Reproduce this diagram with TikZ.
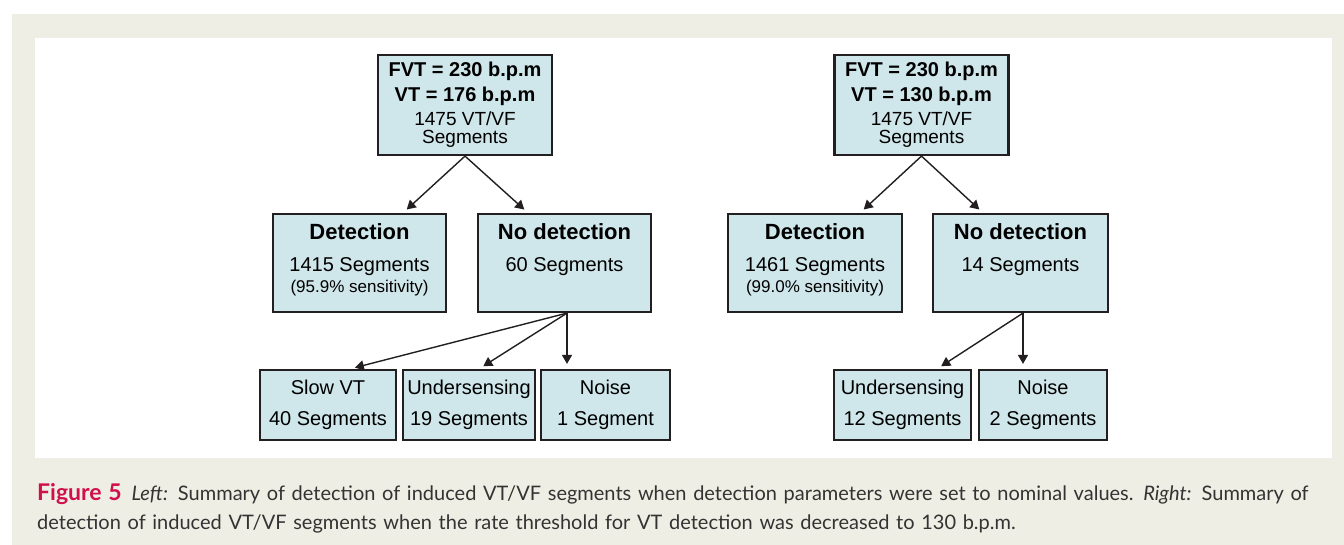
\documentclass[tikz,border=0pt]{standalone}
\usepackage{fontspec}
\setmainfont{Liberation Sans}
\newfontfamily\capfont{Lato}
\usepackage{tikz}
\usetikzlibrary{arrows.meta, positioning}
\usepackage{xcolor}
\definecolor{boxfill}{RGB}{207,230,234}
\definecolor{boxline}{RGB}{35,31,32}
\definecolor{bgbeige}{RGB}{239,238,228}
\definecolor{figred}{RGB}{208,16,76}
\definecolor{captext}{RGB}{51,51,51}

\newcommand{\hdfont}{\fontsize{22}{0}\selectfont\bfseries}
\newcommand{\tpfont}{\fontsize{20}{0}\selectfont\bfseries}
\newcommand{\txfont}{\fontsize{20}{0}\selectfont\mdseries}
\newcommand{\tsfont}{\fontsize{19}{0}\selectfont\mdseries}
\newcommand{\smfont}{\fontsize{17}{0}\selectfont\mdseries}
% width, height, first baseline, lines
\newcommand{\boxtext}[4]{\parbox[t][#2][t]{#1}{\centering\lineskiplimit=-\maxdimen\lineskip=0pt\rule{0pt}{#3}#4}}

\begin{document}
\begin{tikzpicture}[x=1pt, y=-1pt,
  box/.style={draw=boxline, fill=boxfill, line width=2.2pt, inner sep=0pt},
  arr/.style={-{Triangle[length=9pt, width=10pt]}, line width=1.4pt, draw=boxline, shorten >=5pt}
]
\useasboundingbox (0,0) rectangle (1344,545);
\fill[white] (0,0) rectangle (1344,545);
\fill[bgbeige] (12,14) rectangle (1344,545);
\fill[white] (35,38) rectangle (1332,458);

% left tree
\node[box] (topl) at (465,105) {\boxtext{174pt}{100pt}{22pt}{\tpfont FVT = 230 b.p.m\\[25pt] VT = 176 b.p.m\\[24pt]\tsfont 1475 VT/VF\\[18pt] Segments}};
\node[box] (detl) at (359.5,263) {\boxtext{173pt}{98pt}{26pt}{\hdfont Detection\\[32pt]\txfont 1415 Segments\\[21pt]\smfont (95.9\% sensitivity)}};
\node[box] (nodl) at (564.5,263) {\boxtext{173pt}{98pt}{26pt}{\hdfont No detection\\[32pt]\txfont 60 Segments}};

\node[box] (slowl) at (328,405) {\boxtext{136pt}{70pt}{24pt}{\txfont Slow VT\\[31pt] 40 Segments}};
\node[box] (undl) at (469,405) {\boxtext{132pt}{70pt}{24pt}{\txfont Undersensing\\[31pt] 19 Segments}};
\node[box] (noisel) at (605.5,405) {\boxtext{129pt}{70pt}{24pt}{\txfont Noise\\[31pt] 1 Segment}};

\draw[arr] (topl.south) -- ([xshift=43.5]detl.north);
\draw[arr] (topl.south) -- ([xshift=-36.5]nodl.north);
\draw[arr] ([xshift=2.5]nodl.south) -- ([xshift=22]slowl.north);
\draw[arr] ([xshift=2.5]nodl.south) -- ([xshift=10]undl.north);
\draw[arr] ([xshift=2.5]nodl.south) -- ([xshift=2.5]nodl.south |- noisel.north);

% right tree
\node[box] (topr) at (921.5,105) {\boxtext{174pt}{100pt}{22pt}{\tpfont FVT = 230 b.p.m\\[25pt] VT = 130 b.p.m\\[24pt]\tsfont 1475 VT/VF\\[18pt] Segments}};
\node[box] (detr) at (815,263) {\boxtext{174pt}{98pt}{26pt}{\hdfont Detection\\[32pt]\txfont 1461 Segments\\[21pt]\smfont (99.0\% sensitivity)}};
\node[box] (nodr) at (1020.5,263) {\boxtext{175pt}{98pt}{26pt}{\hdfont No detection\\[32pt]\txfont 14 Segments}};

\node[box] (undr) at (902.5,405) {\boxtext{137pt}{70pt}{24pt}{\txfont Undersensing\\[31pt] 12 Segments}};
\node[box] (noiser) at (1043,405) {\boxtext{128pt}{70pt}{24pt}{\txfont Noise\\[31pt] 2 Segments}};

\draw[arr] (topr.south) -- ([xshift=45]detr.north);
\draw[arr] (topr.south) -- ([xshift=-37.5]nodr.north);
\draw[arr] ([xshift=2.5]nodr.south) -- ([xshift=34.5]undr.north);
\draw[arr] ([xshift=2.5]nodr.south) -- ([xshift=2.5]nodr.south |- noiser.north);

% caption
\node[anchor=base west, inner sep=0pt, text width=1300pt, align=left, text=captext,
      font=\capfont\fontsize{20}{29}\selectfont] (cap) at (37,500)
  {\makebox[1294pt][s]{{\color{figred}\fontsize{23}{29}\selectfont\bfseries Figure 5}\hspace{0.5em}\textit{Left:} Summary of detection of induced VT/VF segments when detection parameters were set to nominal values. \textit{Right:} Summary of}\\
   detection of induced VT/VF segments when the rate threshold for VT detection was decreased to 130 b.p.m.};
\end{tikzpicture}
\end{document}
